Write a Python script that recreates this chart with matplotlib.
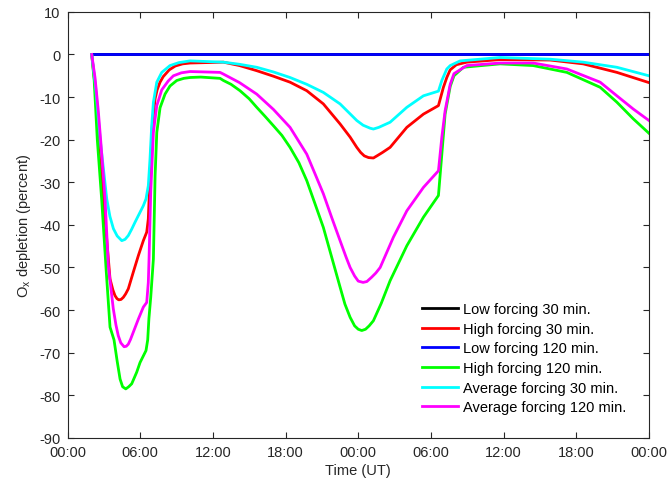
import matplotlib
matplotlib.use("Agg")
import matplotlib.pyplot as plt

plt.rcParams['font.family'] = ['Liberation Sans', 'DejaVu Sans']
plt.rcParams['axes.unicode_minus'] = False

# Hours since the first 00:00 (two days of model time)
hours_low = [2.0, 48.0]
low_30 = [0.0, 0.0]
low_120 = [0.0, 0.0]

hours_high_30 = [2.0, 2.3, 2.6, 2.96, 3.51, 3.75, 3.92, 4.08, 4.23, 4.42, 4.61, 4.8, 5.02,
                 5.43, 5.85, 6.26, 6.54, 6.67, 6.81, 7.0, 7.23, 7.4, 7.64, 7.9, 8.4, 8.9,
                 9.5, 10.12, 12.87, 14.2, 15.62, 17.0, 18.37, 19.75, 21.12, 22.5, 23.33,
                 23.88, 24.2, 24.5, 24.85, 25.25, 25.6, 26.0, 26.63, 28.01, 29.38, 30.62,
                 31.03, 31.31, 31.59, 32.1, 32.96, 35.71, 39.84, 42.57, 45.35, 48.0]
high_30 = [0.0, -8.0, -18.0, -33.9, -52.7, -55.3, -56.6, -57.3, -57.6, -57.5, -57.0, -56.2, -55.0,
           -51.1, -47.2, -43.7, -41.7, -38.6, -28.5, -16.7, -10.4, -8.3, -6.5, -5.2, -3.6, -2.7,
           -2.2, -2.0, -1.8, -2.6, -3.8, -5.1, -6.5, -8.5, -11.6, -16.3, -19.4,
           -21.8, -23.0, -23.8, -24.2, -24.3, -23.7, -23.0, -21.8, -17.1, -14.0, -12.0,
           -7.7, -5.4, -3.6, -2.4, -1.8, -1.2, -1.3, -2.2, -4.2, -6.6]

hours_high_120 = [2.0, 2.2, 2.46, 2.82, 3.2, 3.51, 3.84, 4.1, 4.34, 4.55, 4.81, 5.05, 5.3,
                  5.71, 5.99, 6.48, 6.62, 6.72, 6.87, 7.09, 7.23, 7.37, 7.64, 8.05, 8.46,
                  9.02, 9.6, 10.12, 11.0, 12.59, 12.87, 13.5, 14.24, 15.0, 15.62, 16.3,
                  16.99, 17.7, 18.37, 19.1, 19.75, 20.4, 21.12, 21.8, 22.5, 22.9, 23.33,
                  23.7, 24.0, 24.29, 24.6, 24.9, 25.25, 25.9, 26.63, 28.01, 29.38, 30.62,
                  30.9, 31.17, 31.59, 31.9, 32.68, 35.71, 38.44, 41.22, 43.97, 45.35,
                  46.7, 48.0]
high_120 = [0.0, -6.0, -20.0, -34.0, -51.0, -64.0, -67.0, -72.0, -76.2, -78.0, -78.5, -78.0, -77.3,
            -74.6, -72.3, -69.5, -67.0, -62.0, -57.0, -48.0, -28.5, -18.3, -12.5, -9.3, -7.4,
            -6.1, -5.6, -5.4, -5.3, -5.6, -6.1, -7.0, -8.5, -10.4, -12.4, -14.5,
            -16.7, -19.0, -21.8, -25.4, -29.6, -34.8, -40.6, -47.5, -54.6, -58.6, -61.7,
            -63.7, -64.5, -64.8, -64.5, -63.7, -62.5, -58.4, -53.1, -44.9, -38.2, -33.1,
            -23.4, -14.0, -7.5, -5.0, -3.0, -2.2, -2.6, -4.2, -7.7, -11.2,
            -15.1, -18.5]

hours_avg_30 = [2.0, 2.3, 2.7, 3.24, 3.5, 3.79, 4.1, 4.48, 4.75, 5.02, 5.3, 5.57, 5.71, 6.26,
                6.48, 6.67, 6.81, 6.95, 7.09, 7.37, 7.78, 8.46, 9.2, 10.12, 12.87, 14.2,
                15.62, 17.0, 18.37, 19.75, 21.12, 22.5, 23.88, 24.4, 24.98, 25.25, 25.7,
                26.63, 28.01, 29.38, 30.62, 30.9, 31.31, 31.59, 32.41, 35.71, 39.84,
                42.57, 45.35, 48.0]
avg_30 = [0.0, -7.0, -20.0, -33.9, -38.0, -40.9, -42.6, -43.7, -43.4, -42.5, -41.0, -39.4, -38.6, -35.5,
          -33.9, -30.8, -24.5, -16.7, -11.2, -6.5, -4.2, -2.6, -1.9, -1.5, -1.8, -2.3,
          -3.0, -4.1, -5.4, -7.0, -8.9, -11.6, -15.5, -16.6, -17.3, -17.5, -17.1,
          -15.9, -12.4, -9.7, -8.6, -6.1, -3.4, -2.6, -1.5, -0.7, -1.1,
          -1.8, -3.0, -5.0]

hours_avg_120 = [2.0, 2.27, 2.54, 2.74, 3.1, 3.37, 3.78, 4.0, 4.19, 4.4, 4.67, 4.85, 5.02,
                 5.2, 5.43, 5.85, 6.26, 6.54, 6.67, 6.73, 6.87, 7.09, 7.37, 7.78, 8.32,
                 8.74, 9.4, 10.12, 12.59, 12.87, 14.2, 15.62, 17.0, 18.37, 19.75, 20.4,
                 21.12, 21.8, 22.5, 23.0, 23.33, 23.7, 24.0, 24.4, 24.71, 25.1, 25.45,
                 25.81, 26.9, 28.01, 29.38, 30.62, 30.9, 31.17, 31.59, 31.9, 32.96, 35.71,
                 38.44, 41.22, 43.97, 45.35, 46.7, 48.0]
avg_120 = [0.0, -5.4, -13.2, -20.2, -33.9, -49.6, -59.7, -63.5, -66.0, -67.7, -68.6, -68.5, -68.0,
           -66.9, -65.2, -62.1, -59.3, -58.2, -53.5, -48.0, -32.3, -18.3, -12.0, -8.3, -6.2,
           -5.0, -4.3, -4.0, -4.2, -4.6, -6.6, -9.3, -12.9, -17.1, -23.4, -27.8,
           -32.7, -38.2, -43.7, -47.6, -50.0, -52.0, -53.2, -53.5, -53.3, -52.3, -51.3,
           -50.0, -42.9, -36.7, -31.2, -27.3, -19.4, -13.2, -7.0, -4.5, -2.6, -2.0,
           -2.0, -3.4, -6.5, -9.7, -12.8, -15.5]

tick_hours = [0, 6, 12, 18, 24, 30, 36, 42, 48]
tick_labels = ['00:00', '06:00', '12:00', '18:00', '00:00', '06:00', '12:00', '18:00', '00:00']

fig = plt.figure(figsize=(6.71, 4.85), dpi=100)
ax = fig.add_axes([0.1006, 0.0951, 0.8666, 0.8783])

lw = 2.0
ax.plot(hours_low, low_30, color='k', lw=lw, label='Low forcing 30 min.')
ax.plot(hours_high_30, high_30, color='#ff0000', lw=lw, label='High forcing 30 min.')
ax.plot(hours_low, low_120, color='#0000ff', lw=lw, label='Low forcing 120 min.')
ax.plot(hours_high_120, high_120, color='#00ff00', lw=lw, label='High forcing 120 min.')
ax.plot(hours_avg_30, avg_30, color='#00ffff', lw=lw, label='Average forcing 30 min.')
ax.plot(hours_avg_120, avg_120, color='#ff00ff', lw=lw, label='Average forcing 120 min.')

ax.set_xlim(0, 48)
ax.set_ylim(-90, 10)
ax.set_xticks(tick_hours)
ax.set_xticklabels(tick_labels)
ax.set_yticks(range(-90, 11, 10))

fs = 10.5
ax.tick_params(direction='in', top=True, right=True, length=4.5, width=0.8,
               labelsize=fs, colors='#262626', pad=5)
for s in ax.spines.values():
    s.set_color('#262626')
    s.set_linewidth(0.8)

ax.set_xlabel('Time (UT)', fontsize=fs, color='#262626', labelpad=3)
ax.set_ylabel('O$_\\mathregular{x}$ depletion (percent)', fontsize=fs, color='#262626', labelpad=4.5)

ax.legend(loc='upper left', bbox_to_anchor=(422 / 671, 1 - 303 / 485),
          bbox_transform=fig.transFigure, frameon=False, fontsize=fs,
          handlelength=2.5, handletextpad=0.3, labelspacing=0.39,
          borderpad=0, borderaxespad=0)

fig.savefig('out.png', dpi=100)
